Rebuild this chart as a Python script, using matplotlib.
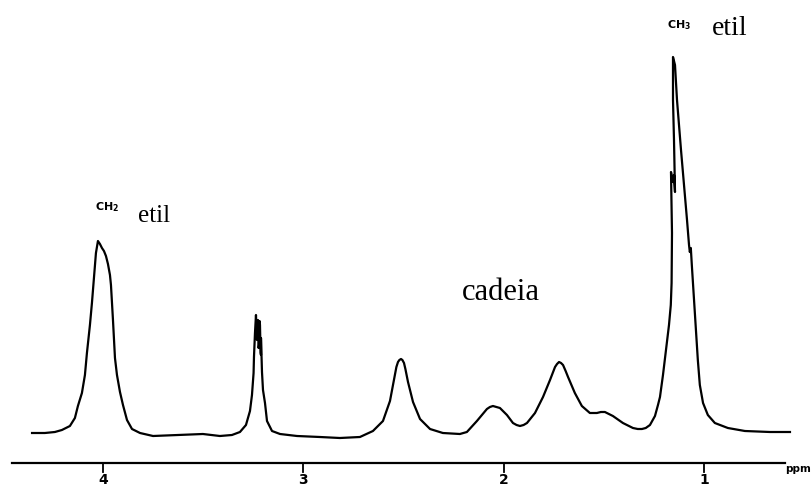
import matplotlib
matplotlib.use("Agg")
import matplotlib.pyplot as plt

# trace (ppm, intensity above baseline)
ppm = [4.354, 4.290, 4.240, 4.205, 4.165, 4.140, 4.125, 4.105, 4.090, 4.080,
       4.065, 4.055, 4.045, 4.035, 4.025, 4.015, 4.005, 3.995, 3.985, 3.975,
       3.965, 3.960, 3.950, 3.940, 3.930, 3.915, 3.900, 3.880, 3.855, 3.815,
       3.750, 3.631, 3.501, 3.416, 3.356, 3.316, 3.286, 3.266, 3.256, 3.248,
       3.246, 3.241, 3.236, 3.231, 3.229, 3.226, 3.223, 3.221, 3.218, 3.216,
       3.213, 3.211, 3.211, 3.206, 3.201,
       3.191, 3.181, 3.156, 3.116, 3.031, 2.917, 2.817, 2.717, 2.652, 2.602,
       2.567, 2.542, 2.535, 2.527, 2.520, 2.512, 2.505, 2.497, 2.490, 2.477,
       2.452, 2.417, 2.367, 2.303,
       2.218, 2.183, 2.133, 2.083, 2.068, 2.053, 2.035, 2.018, 1.983, 1.953,
       1.935, 1.918, 1.900, 1.883,
       1.843, 1.803, 1.768, 1.743, 1.733, 1.723, 1.713, 1.703, 1.690, 1.678,
       1.644, 1.609, 1.569, 1.550, 1.534, 1.514, 1.494, 1.474, 1.454, 1.404,
       1.354, 1.330, 1.309, 1.290, 1.269, 1.244, 1.229, 1.219,
       1.204, 1.189, 1.174, 1.165, 1.161, 1.159, 1.164, 1.154, 1.149, 1.144,
       1.149, 1.154, 1.154, 1.144, 1.134, 1.124, 1.114, 1.099, 1.084, 1.074,
       1.070, 1.065, 1.060, 1.050, 1.040, 1.030, 1.020, 1.004, 0.980, 0.945,
       0.880, 0.795, 0.670, 0.570]
intensity = [0, 0, 1, 3, 7, 15, 27, 40, 58, 80,
             108, 130, 155, 180, 192, 189, 185, 182, 177, 169,
             158, 148, 113, 75, 58, 41, 28, 13, 4, 0,
             -3, -2, -1, -3, -2, 1, 8, 22, 38, 60,
             76, 100, 118, 93, 110, 113, 85, 88, 112, 108,
             80, 78, 95, 61, 43,
             30, 12, 2, -1, -3, -4, -5, -4, 2, 12,
             32, 59, 66, 71, 73, 74, 73, 70, 64, 51,
             31, 14, 4, 0,
             -1, 1, 12, 24, 26, 27, 26, 25, 18, 10,
             8, 7, 8, 10,
             20, 36, 53, 66, 69, 71, 70, 68, 62, 56,
             40, 27, 20, 20, 20, 21, 21, 19, 17, 10,
             5, 4, 4, 5, 8, 17, 28, 36,
             58, 83, 108, 128, 150, 200, 261, 251, 258, 241,
             293, 333, 376, 368, 333, 308, 283, 248, 213, 188,
             181, 185, 168, 136, 103, 73, 48, 30, 18, 10,
             5, 2, 1, 1]

tick_ppm = [4, 3, 2, 1]
tick_labels = ["4", "3", "2", "1"]

fig = plt.figure(figsize=(8.12, 4.88), dpi=100)
ax = fig.add_axes([0, 0, 1, 1])
ax.set_xlim(4.514, 0.460)
ax.set_ylim(-55, 433)
ax.axis("off")

ax.plot(ppm, intensity, color="black", lw=1.6, solid_joinstyle="round")

# scale line with ticks
ax.plot([4.454, 0.595], [-30, -30], color="black", lw=1.6)
for p, lab in zip(tick_ppm, tick_labels):
    ax.plot([p, p], [-30, -39], color="black", lw=1.3)
    ax.text(p, -54, lab, ha="center", va="bottom", fontsize=10,
            fontweight="bold", family="DejaVu Sans")
ax.text(0.530, -36, "ppm", ha="center", va="center", fontsize=7.5,
        fontweight="bold", family="DejaVu Sans")

# peak labels
ax.text(4.040, 223, r"$\mathbf{CH_2}$", fontsize=8, ha="left", va="baseline")
ax.text(3.825, 211, "etil", fontsize=18, family="Liberation Serif",
        ha="left", va="baseline")
ax.text(1.184, 405, r"$\mathbf{CH_3}$", fontsize=8, ha="left", va="baseline")
ax.text(0.960, 398, "etil", fontsize=20, family="Liberation Serif",
        ha="left", va="baseline")
ax.text(2.208, 133, "cadeia", fontsize=22, family="Liberation Serif",
        ha="left", va="baseline")

fig.savefig("out.png", dpi=100, facecolor="white")
